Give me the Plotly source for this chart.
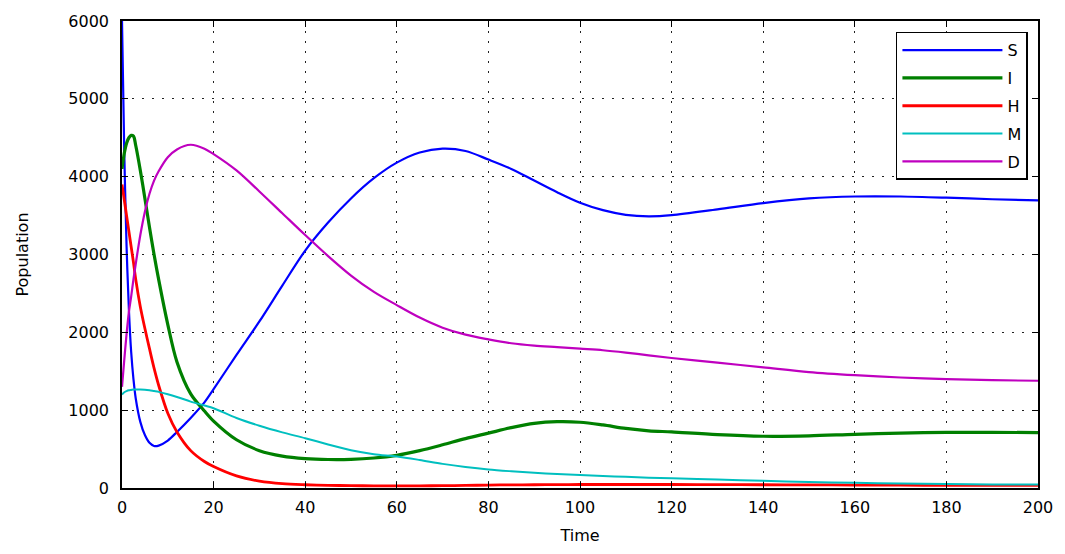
import plotly.graph_objects as go

time = [0, 0.5, 1, 1.5, 2, 2.5, 3, 4, 5, 6, 7, 8, 10, 12, 15, 18, 20, 25, 30, 35,
        40, 45, 50, 55, 60, 65, 70, 75, 80, 85, 90, 95, 100, 105, 110, 115, 120,
        130, 140, 150, 160, 170, 180, 190, 200]

S = [6000, 4300, 3100, 2300, 1750, 1400, 1150, 850, 680, 580, 540, 545, 610, 720, 900,
     1100, 1270, 1710, 2140, 2600, 3050, 3410, 3720, 3980, 4180, 4310, 4360, 4330, 4220,
     4100, 3950, 3800, 3665, 3570, 3510, 3490, 3505, 3580, 3660, 3720, 3745, 3745, 3730,
     3710, 3695]

I = [4100, 4300, 4430, 4500, 4530, 4520, 4400, 4080, 3720, 3350, 3000, 2680, 2100, 1620,
     1210, 990, 860, 620, 480, 410, 378, 366, 368, 385, 420, 480, 555, 635, 705, 775, 830,
     852, 845, 810, 765, 735, 720, 685, 665, 670, 690, 705, 715, 715, 712]

H = [3900, 3700, 3500, 3300, 3100, 2900, 2680, 2330, 2050, 1790, 1540, 1320, 960, 720,
     480, 340, 275, 155, 88, 55, 42, 35, 30, 28, 28, 28, 30, 33, 38, 40, 42, 44, 45, 45,
     45, 45, 45, 44, 42, 40, 38, 36, 35, 35, 35]

M = [1200, 1230, 1245, 1255, 1260, 1265, 1265, 1265, 1262, 1255, 1245, 1235, 1205, 1170,
     1110, 1060, 1025, 900, 800, 715, 640, 560, 485, 435, 405, 360, 310, 270, 238, 215,
     195, 180, 168, 155, 143, 133, 125, 108, 92, 78, 66, 57, 50, 46, 44]

D = [1300, 1650, 1980, 2260, 2460, 2680, 2880, 3250, 3550, 3780, 3950, 4070, 4250, 4350,
     4410, 4360, 4290, 4080, 3810, 3530, 3250, 2980, 2730, 2520, 2350, 2190, 2060, 1970,
     1910, 1860, 1830, 1810, 1790, 1770, 1740, 1705, 1670, 1610, 1550, 1490, 1450, 1420,
     1400, 1385, 1378]

names = ["S", "I", "H", "M", "D"]
series = [S, I, H, M, D]
colors = ["#0000ff", "#008000", "#ff0000", "#00bfbf", "#bf00bf"]
widths = [2.2, 3.2, 2.8, 2, 2.2]

x_ticks = list(range(0, 201, 20))
y_ticks = list(range(0, 6001, 1000))

fig = go.Figure()
for name, ys, c, w in zip(names, series, colors, widths):
    fig.add_trace(go.Scatter(
        x=time, y=ys, name=name, mode="lines", legendgroup=name,
        line=dict(color=c, width=w, shape="spline", smoothing=0.9),
    ))

font = dict(family="DejaVu Sans, sans-serif", size=16, color="#000000")

axis_common = dict(
    showline=True, linecolor="#000000", linewidth=1.5, mirror="allticks",
    ticks="inside", ticklen=6, tickcolor="#000000", tickwidth=1.2,
    showgrid=True, gridcolor="#222222", gridwidth=1.3, griddash="2px,8px",
    zeroline=False, tickfont=font,
)

fig.update_layout(
    width=1065, height=554,
    margin=dict(l=122, r=26, t=16, b=54),
    paper_bgcolor="white", plot_bgcolor="white",
    font=font,
    showlegend=True,
    legend=dict(
        x=0.989, y=0.977, xanchor="right", yanchor="top",
        bgcolor="white", bordercolor="#000000", borderwidth=1.5,
        font=dict(family="DejaVu Sans, sans-serif", size=16, color="#000000"),
        tracegroupgap=4, itemwidth=100,
    ),
    xaxis=dict(range=[0, 200], tickvals=x_ticks, ticklabelstandoff=4,
               title=dict(text="Time", standoff=14, font=font), **axis_common),
    yaxis=dict(range=[0, 6000], tickvals=y_ticks, ticklabelstandoff=8,
               title=dict(text="Population", standoff=36, font=font), **axis_common),
)

fig.write_html(
    "out.html",
    config={"displayModeBar": False},
    post_script="document.body.style.margin='0';document.body.style.overflow='hidden';",
)
